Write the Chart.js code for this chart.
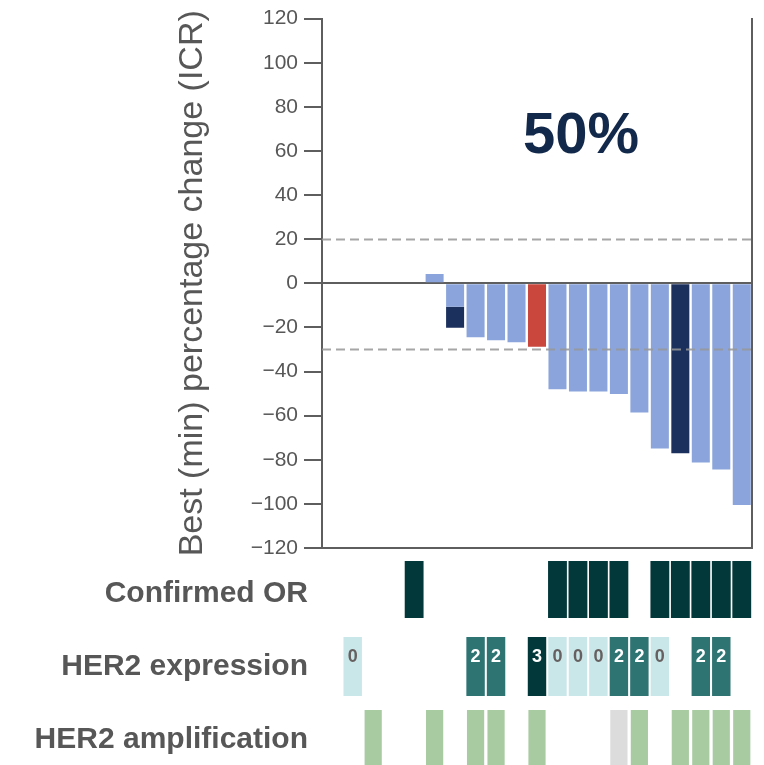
<!DOCTYPE html>
<html>
<head>
<meta charset="utf-8">
<title>Best percentage change with HER2 status</title>
<script src="https://cdn.jsdelivr.net/npm/chart.js@4/dist/chart.umd.min.js"></script>
<style>
  html, body { margin: 0; padding: 0; background: #ffffff; }
  body { width: 764px; height: 765px; position: relative; overflow: hidden; }
  canvas { position: absolute; left: 0; }
  #main { top: 0; }
  #rowOR { top: 521px; }
  #rowExpr { top: 597px; }
  #rowAmp { top: 670px; }
</style>
</head>
<body>
<canvas id="main" width="764" height="570"></canvas>
<canvas id="rowOR" width="764" height="137"></canvas>
<canvas id="rowExpr" width="764" height="139"></canvas>
<canvas id="rowAmp" width="764" height="137"></canvas>
<script>
// Patients, ordered by best percentage change
const patients = ['01','02','03','04','05','06','07','08','09','10','11',
                  '12','13','14','15','16','17','18','19','20','21'];

// Best (min) percentage change from baseline, split by bar colour
const changeStandard = [null, null, null, null, null, 4.2, -10.6, -24.5, -25.8, -26.7, null,
                        -48.0, -49.1, -49.1, -50.2, -58.6, -74.9, null, -81.2, -84.4, -100.5];
const changeDark     = [null, null, null, null, null, null, -9.6, null, null, null, null,
                        null, null, null, null, null, null, -77.0, null, null, null];
const changeRed      = [null, null, null, null, null, null, null, null, null, null, -28.8,
                        null, null, null, null, null, null, null, null, null, null];

// Response thresholds (dashed reference lines)
const thresholds = [20, -30];

// Y axis range and tick step
const yRange = [-120, 120];
const yStep = 20;

// Annotation tracks
const confirmedOR   = [0, 0, 0, 0, 1, 0, 0, 0, 0, 0, 0, 1, 1, 1, 1, 0, 1, 1, 1, 1, 1];
const her2Expression = [null, 0, null, null, null, null, null, 2, 2, null, 3,
                        0, 0, 0, 2, 2, 0, null, 2, 2, null];
const her2Amplification = ['', '', 'amp', '', '', 'amp', '', 'amp', 'amp', '', 'amp',
                           '', '', '', 'na', 'amp', '', 'amp', 'amp', 'amp', 'amp'];

const rowLabels = ['Confirmed OR', 'HER2 expression', 'HER2 amplification'];
const headline = '50%';

const FONT = '"Liberation Sans", Arial, Helvetica, sans-serif';
const AXIS_GREY = '#5e5e5e';
const TEXT_GREY = '#575757';
const PLOT_LEFT = 322;      // left edge of the plotting area
const PLOT_RIGHT_PAD = 12;  // space right of the plotting area
const TRACK_PAD = 40;       // room above/below each annotation track

const exprColours = { 0: '#c9e6e9', 1: '#8cc3c5', 2: '#2e7473', 3: '#03383a' };
const ampColours = { amp: '#a8cba1', na: '#dcdcdc' };

// Dashed threshold lines across the plot
const thresholdLines = {
  id: 'thresholdLines',
  afterDatasetsDraw(chart) {
    const { ctx, chartArea, scales } = chart;
    ctx.save();
    ctx.strokeStyle = 'rgba(150,150,150,0.85)';
    ctx.lineWidth = 2;
    ctx.setLineDash([9, 5]);
    thresholds.forEach(v => {
      const y = Math.round(scales.y.getPixelForValue(v)) + 0.5;
      ctx.beginPath();
      ctx.moveTo(chartArea.left, y);
      ctx.lineTo(chartArea.right + 2, y);
      ctx.stroke();
    });
    ctx.restore();
  }
};

// Large headline figure inside the plot
const headlineText = {
  id: 'headlineText',
  afterDraw(chart) {
    const { ctx } = chart;
    ctx.save();
    ctx.font = 'bold 58px ' + FONT;
    ctx.fillStyle = '#13294b';
    ctx.textAlign = 'center';
    ctx.textBaseline = 'alphabetic';
    ctx.fillText(headline, 581, 153);
    ctx.restore();
  }
};

new Chart(document.getElementById('main'), {
  type: 'bar',
  data: {
    labels: patients,
    datasets: [
      { data: changeStandard, backgroundColor: '#8ba5dc' },
      { data: changeDark, backgroundColor: '#1c305e' },
      { data: changeRed, backgroundColor: '#c9473d' }
    ]
  },
  options: {
    responsive: false,
    animation: false,
    events: [],
    layout: { padding: { top: 18, right: PLOT_RIGHT_PAD, bottom: 22, left: 0 } },
    datasets: { bar: { barPercentage: 0.88, categoryPercentage: 1 } },
    plugins: { legend: { display: false }, tooltip: { enabled: false } },
    scales: {
      x: {
        stacked: true,
        grid: { display: false, drawTicks: false },
        ticks: { display: false },
        border: { display: true, color: AXIS_GREY, width: 2 },
        afterFit(s) { s.height = 0; }
      },
      y: {
        stacked: true,
        min: yRange[0],
        max: yRange[1],
        afterFit(s) { s.width = PLOT_LEFT; },
        ticks: {
          stepSize: yStep,
          padding: 6,
          color: TEXT_GREY,
          font: { family: FONT, size: 21 },
          callback: v => (v < 0 ? '\u2212' + Math.abs(v) : String(v))
        },
        grid: {
          drawOnChartArea: true,
          color: c => (c.tick && c.tick.value === 0 ? AXIS_GREY : 'rgba(0,0,0,0)'),
          lineWidth: 2,
          tickLength: 18,
          tickColor: AXIS_GREY,
          tickWidth: 2
        },
        border: { display: true, color: AXIS_GREY, width: 2 },
        title: {
          display: true,
          text: 'Best (min) percentage change (ICR)',
          color: TEXT_GREY,
          font: { family: FONT, size: 34 },
          padding: { top: 172, bottom: 0 }
        }
      },
      yRight: {
        type: 'linear',
        position: 'right',
        min: yRange[0],
        max: yRange[1],
        afterFit(s) { s.width = 0; },
        ticks: { display: false },
        grid: { display: false, drawTicks: false },
        border: { display: true, color: AXIS_GREY, width: 2 }
      }
    }
  },
  plugins: [thresholdLines, headlineText]
});

// One annotation track: a row of cells sharing the patient axis
function track(canvasId, label, labelPos, values, colours, barPct, extraPlugins) {
  new Chart(document.getElementById(canvasId), {
    type: 'bar',
    data: {
      labels: patients,
      datasets: [{
        data: values.map(v => (v === null || v === '' || (v === 0 && colours === null) ? null : 1)),
        backgroundColor: values.map(v => (colours ? colours[v] : '#02383a'))
      }]
    },
    options: {
      responsive: false,
      animation: false,
      events: [],
      layout: { padding: { top: TRACK_PAD, right: PLOT_RIGHT_PAD, bottom: TRACK_PAD, left: 0 } },
      datasets: { bar: { barPercentage: barPct, categoryPercentage: 1 } },
      plugins: { legend: { display: false }, tooltip: { enabled: false } },
      scales: {
        x: { display: false },
        y: {
          min: 0,
          max: 1,
          afterFit(s) { s.width = PLOT_LEFT; },
          afterBuildTicks(s) { s.ticks = [{ value: labelPos }]; },
          ticks: {
            padding: 14,
            color: TEXT_GREY,
            font: { family: FONT, size: 30, weight: 'bold' },
            callback: () => label
          },
          grid: { display: false, drawTicks: false },
          border: { display: false }
        }
      }
    },
    plugins: extraPlugins || []
  });
}

// Expression score written inside each cell
const exprText = {
  id: 'exprText',
  afterDatasetsDraw(chart) {
    const { ctx } = chart;
    const meta = chart.getDatasetMeta(0);
    ctx.save();
    ctx.font = 'bold 18px ' + FONT;
    ctx.textAlign = 'center';
    ctx.textBaseline = 'middle';
    meta.data.forEach((bar, i) => {
      const v = her2Expression[i];
      if (v === null) return;
      ctx.fillStyle = v === 0 ? '#666160' : '#ffffff';
      ctx.fillText(String(v), bar.x, bar.y + 20);
    });
    ctx.restore();
  }
};

track('rowOR', rowLabels[0], 0.42, confirmedOR, null, 0.92);
track('rowExpr', rowLabels[1], 0.5, her2Expression, exprColours, 0.9, [exprText]);
track('rowAmp', rowLabels[2], 0.47, her2Amplification, ampColours, 0.84);
</script>
</body>
</html>
